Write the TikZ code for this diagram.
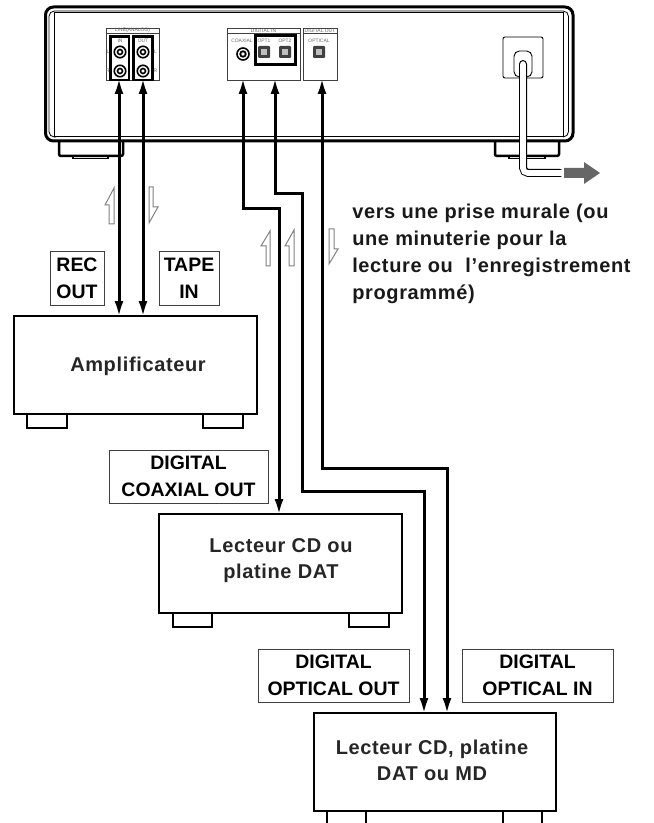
\documentclass[tikz,border=0pt]{standalone}
\usepackage{fontspec}
\setmainfont{Liberation Sans}
\newfontfamily\spacedfont{Liberation Sans}[LetterSpace=3.2]
\usetikzlibrary{arrows.meta,positioning,calc}
\newcommand{\px}{0.75pt}

\tikzset{
  device/.style={draw, line width=2.2*\px, rectangle, inner sep=0pt, line join=miter},
  foot/.style={draw, line width=2.2*\px, rectangle, inner sep=0pt},
  tag/.style={draw=black!75, line width=1*\px, rectangle, inner sep=0pt, align=center,
    font=\fontsize{14.6}{20}\selectfont\bfseries},
  devname/.style={align=center, inner sep=0pt, text=black!85,
    font=\spacedfont\fontsize{15}{20}\selectfont\bfseries},
  tiny/.style={inner sep=0pt, text=black!60, font=\fontsize{3.7}{4}\selectfont},
  cable/.style={line width=3*\px, {Latex[length=16*\px, width=9*\px]}-{Latex[length=16*\px, width=9*\px]}},
  flow/.style={draw=black!50, line width=1*\px, fill=white},
  jack/.style={circle, draw, line width=1.6*\px, minimum size=11.5*\px, inner sep=0pt},
  port/.style={rectangle, rounded corners=1*\px, fill=black!75, minimum size=12*\px, inner sep=0pt}
}

\begin{document}
\begin{tikzpicture}[x=0.75pt, y=-0.75pt]
  \useasboundingbox (0,0) rectangle (653,823);

  % Rear feet
  \draw[line width=2.5*\px, rounded corners=1.5] (59,141) -- (59,156) -- (123,156) -- (123,141);
  \draw[line width=1.5*\px] (73,156) -- (73,158.5) -- (108,158.5) -- (108,156);
  \draw[line width=2.5*\px, rounded corners=1.5] (495,141) -- (495,156) -- (559,156) -- (559,141);
  \draw[line width=1.5*\px] (509,156) -- (509,158.5) -- (545,158.5) -- (545,156);

  % Rear panel
  \draw[line width=3*\px, rounded corners=6] (45.5,7) rectangle (573,141);
  \draw[line width=0.8*\px, rounded corners=4] (54,137) -- (49,137) -- (49,11) -- (568.5,11) -- (568.5,137) -- (563,137);
  \draw[line width=1*\px] (54,137) -- (54,13) -- (563,13) -- (563,137) -- cycle;

  % Line connectors
  \draw[line width=0.8*\px, draw=black!75] (106,28) rectangle (159,80);
  \draw[line width=0.8*\px, draw=black!75] (106,33) -- (159,33);
  \node[tiny] (linetitle) at (132.5,30.7) {LINE(ANALOG)};
  \draw[line width=2.6*\px] (110.5,36.5) rectangle (129,80);
  \draw[line width=2.6*\px] (133.5,36.5) rectangle (152.5,80);
  \node[tiny] (intitle) at (120,41) {IN};
  \node[tiny] (outtitle) at (143,41) {OUT};
  \foreach \i/\a/\b in {1/120/52, 2/120/71, 3/143/52, 4/143/71} {
    \node[jack] (jack\i) at (\a,\b) {};
    \node[circle, draw, line width=1.6*\px, minimum size=5*\px, inner sep=0pt] (jackcore\i) at (\a,\b) {};
  }
  \node[tiny] (leftl) at (108,52) {L};
  \node[tiny] (leftr) at (108,71) {R};
  \node[tiny] (rightl) at (155.5,52) {L};
  \node[tiny] (rightr) at (155.5,71) {R};

  % Digital connectors
  \draw[line width=0.8*\px, draw=black!75] (227,28) rectangle (300,80);
  \draw[line width=0.8*\px, draw=black!75] (227,33) -- (300,33);
  \node[tiny] (dintitle) at (263.5,30.7) {DIGITAL IN};
  \draw[line width=0.8*\px, draw=black!75] (303,28) rectangle (337,80);
  \draw[line width=0.8*\px, draw=black!75] (303,33) -- (337,33);
  \node[tiny] (douttitle) at (320,30.7) {DIGITAL OUT};
  \draw[line width=3*\px] (255,35.5) rectangle (295.5,64.5);
  \node[tiny] (coaxtitle) at (242,41) {COAXIAL};
  \node[tiny] (opt1title) at (264,41) {OPT1};
  \node[tiny] (opt2title) at (285,41) {OPT2};
  \node[tiny] (optouttitle) at (319,41) {OPTICAL};
  \node[jack, minimum size=12*\px] (coaxjack) at (243,54) {};
  \node[circle, draw, line width=1.8*\px, minimum size=5.5*\px, inner sep=0pt] (coaxcore) at (243,54) {};
  \foreach \i/\a in {1/264, 2/285, 3/319} {
    \node[port] (opt\i) at (\a,52) {};
    \node[rectangle, fill=black!25, minimum size=6*\px, inner sep=0pt] (optcore\i) at (\a,52.5) {};
  }

  % Mains socket and cord
  \draw[line width=0.9*\px, rounded corners=1.5] (503,37) rectangle (543,78);
  \draw[line width=0.9*\px, rounded corners=4] (514,51) rectangle (532,77);
  \draw[line width=8*\px, line cap=round, rounded corners=4] (523,64) -- (523,173) -- (560,173);
  \draw[line width=5.6*\px, white, line cap=round, rounded corners=3.5] (523,64) -- (523,173) -- (564,173);
  \fill[white] (561.5,165) rectangle (566,181);
  \fill[black!60] (564,168) -- (584,168) -- (584,162) -- (600,173) -- (584,184) -- (584,178) -- (564,178) -- cycle;

  % Amplifier
  \node[foot, minimum width=40*\px, minimum height=14*\px] (ampfootl) at (47,421) {};
  \node[foot, minimum width=40*\px, minimum height=14*\px] (ampfootr) at (223,421) {};
  \node[device, fill=white, minimum width=243*\px, minimum height=98*\px] (amp) at (135.5,365) {};
  \node[devname] (ampname) at (138,366) {Amplificateur};

  % CD player
  \node[foot, minimum width=39*\px, minimum height=14*\px] (cdfootl) at (192.5,620) {};
  \node[foot, minimum width=40*\px, minimum height=14*\px] (cdfootr) at (369,620) {};
  \node[device, fill=white, minimum width=243*\px, minimum height=99*\px] (player) at (280.5,563.5) {};
  \node[devname] (playername) at (281,560.5) {Lecteur CD ou\\platine DAT};

  % Recorder
  \draw[line width=2.2*\px] (327,811) -- (327,826);
  \draw[line width=2.2*\px] (366,811) -- (366,826);
  \draw[line width=2.2*\px] (503,811) -- (503,826);
  \draw[line width=2.2*\px] (542,811) -- (542,826);
  \node[device, fill=white, minimum width=242*\px, minimum height=98*\px] (recorder) at (435,762) {};
  \node[devname] (recordername) at (432,760.5) {Lecteur CD, platine\\DAT ou MD};

  % Cable ends
  \coordinate (recport) at (119,78);
  \coordinate (tapeport) at (143,78);
  \coordinate (coaxport) at (243,78);
  \coordinate (optinport) at (275,78);
  \coordinate (optoutport) at (322,78);
  \coordinate (recend) at (119,317);
  \coordinate (tapeend) at (143,317);
  \coordinate (coaxend) at (279,515);
  \coordinate (optoutend) at (424,714);
  \coordinate (optinend) at (447,714);

  % Cables
  \draw[cable] (recport) -- (recend);
  \draw[cable] (tapeport) -- (tapeend);
  \draw[cable] (coaxport) -- (243,208.5) -- (279,208.5) -- (coaxend);
  \draw[cable] (optinport) -- (275,194) -- (302,194) -- (302,491) -- (424,491) -- (optoutend);
  \draw[cable] (optoutport) -- (322,468) -- (447,468) -- (optinend);

  % Signal directions
  \draw[flow] (114,188) -- (114,224) -- (109,224) -- (109,205) -- (105,205) -- cycle;
  \draw[flow] (149,187) -- (153,187) -- (153,207) -- (158,207) -- (149,223) -- cycle;
  \draw[flow] (270,231) -- (270,266) -- (266,266) -- (266,246) -- (261,246) -- cycle;
  \draw[flow] (294,230) -- (294,266) -- (289,266) -- (289,246) -- (285,246) -- cycle;
  \draw[flow] (329,229) -- (334,229) -- (334,249) -- (338,249) -- (329,264) -- cycle;

  % Labels
  \node[tag, minimum width=54*\px, minimum height=53*\px] (rectag) at (77,278.5) {REC\\OUT};
  \node[tag, minimum width=60*\px, minimum height=53*\px] (tapetag) at (189,278.5) {TAPE\\IN};
  \node[tag, minimum width=159*\px, minimum height=53*\px] (coaxtag) at (188.5,476.5) {DIGITAL\\COAXIAL OUT};
  \node[tag, minimum width=151*\px, minimum height=53*\px] (optouttag) at (333.5,675.5) {DIGITAL\\OPTICAL OUT};
  \node[tag, minimum width=151*\px, minimum height=53*\px] (optintag) at (537.5,675.5) {DIGITAL\\OPTICAL IN};

  % Mains note
  \node[anchor=north west, inner sep=0pt, align=left, text=black!90,
    font=\spacedfont\fontsize{15}{20.2}\selectfont\bfseries] (mainsnote) at (352,203.5)
    {vers une prise murale (ou\\une minuterie pour la\\lecture ou \ l’enregistrement\\programmé)};
\end{tikzpicture}
\end{document}
